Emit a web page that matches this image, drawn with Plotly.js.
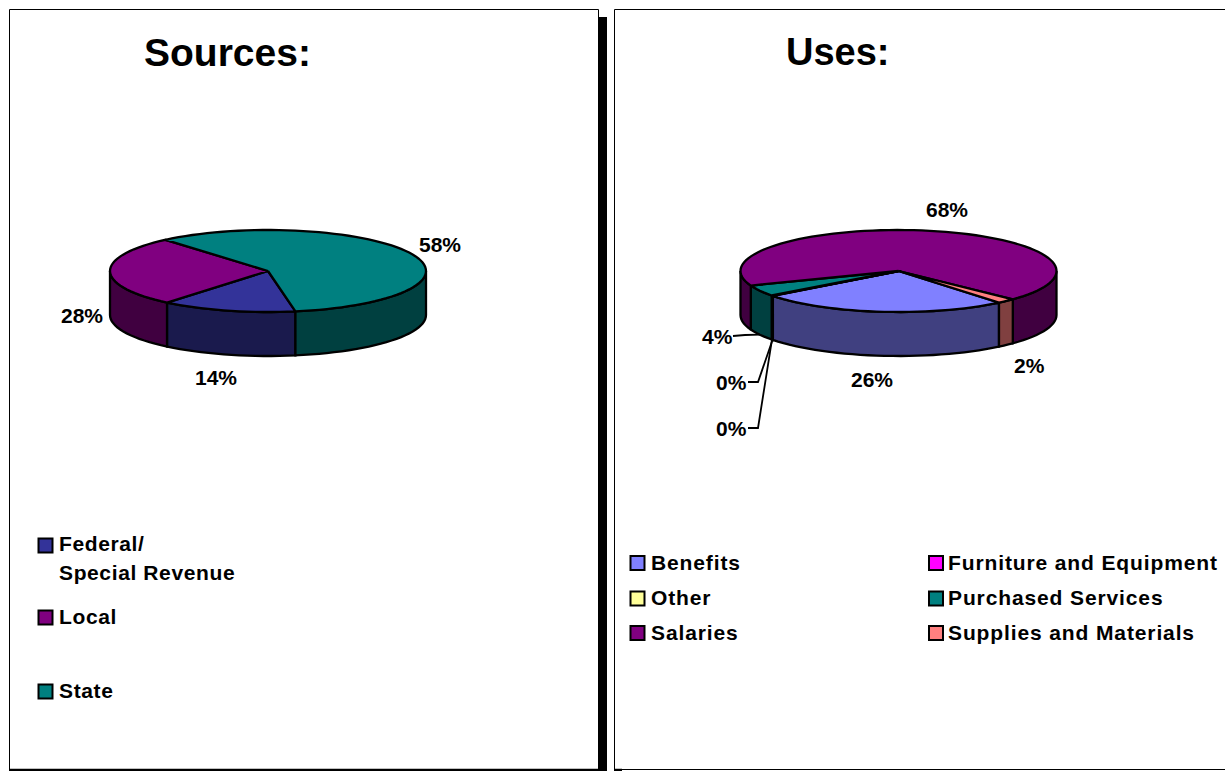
<!DOCTYPE html>
<html><head><meta charset="utf-8">
<script src="https://cdn.plot.ly/plotly-3.0.1.min.js"></script>
<style>
html,body{margin:0;padding:0;background:#fff;overflow:hidden}
#chart{width:1225px;height:771px}
.textpoint text{letter-spacing:0.62px}
.trace:last-child .textpoint text{letter-spacing:0.88px}
</style></head><body><div id="chart"></div>
<script>
// Data
const sourceCategories = ['Federal/ Special Revenue','Local','State'];
const sourceValues = [13.8,27.7,58.4];
const sourceColors = ['#333399','#800080','#008080'];
const sourceSides  = ['#1A1A4D','#400040','#004040'];
const sourceLabelPos = [[215.5,377],[82,315],[439.5,244]];

const useCategories = ['Benefits','Furniture and Equipment','Other','Purchased Services','Salaries','Supplies and Materials'];
const useValues = [25.6,0.1,0.1,4.4,67.9,1.9];
const useColors = ['#8080FF','#FF00FF','#FFFF99','#008080','#800080','#FF8080'];
const useSides  = ['#404080','#800080','#808050','#004040','#400040','#804040'];
const useLabelPos = [[872,379],[731.5,382],[731.5,428],[717,336],[947,209],[1029,365]];

const sourceLegendRows = [
  {text:'Federal/', x:59, y:546, sw:[45.5,545.5], color:sourceColors[0]},
  {text:'Special Revenue', x:59, y:575},
  {text:'Local', x:59, y:619, sw:[45.5,617.5], color:sourceColors[1]},
  {text:'State', x:59, y:693, sw:[45.5,691.5], color:sourceColors[2]}
];
const useLegendRows = [
  {text:'Benefits', x:651, y:565, sw:[637.5,563], color:useColors[0]},
  {text:'Furniture and Equipment', x:948, y:565, sw:[936,563], color:useColors[1]},
  {text:'Other', x:651, y:600, sw:[637.5,598.5], color:useColors[2]},
  {text:'Purchased Services', x:948, y:600, sw:[936,598.5], color:useColors[3]},
  {text:'Salaries', x:651, y:635, sw:[637.5,633], color:useColors[4]},
  {text:'Supplies and Materials', x:948, y:635, sw:[936,633], color:useColors[5]}
];

const FONT = '"Liberation Sans", Arial, sans-serif';
const traces = [];

function pt(g,t,dz){const r=t*Math.PI/180;return [g.cx+g.rx*Math.cos(r), g.cy+g.ry*Math.sin(r)+(dz||0)];}
function arc(g,a,b,dz){
  const out=[], n=Math.max(1,Math.ceil(Math.abs(b-a)/3));
  for(let i=0;i<=n;i++) out.push(pt(g,a+(b-a)*i/n,dz));
  return out;
}
function poly(points,fill){
  traces.push({type:'scatter',mode:'lines',x:points.map(p=>p[0]),y:points.map(p=>p[1]),
    fill:'toself',fillcolor:fill,line:{color:'#000',width:2.3,simplify:false},hoverinfo:'skip'});
}
function drawPie(values,colors,sides,g){
  const total=values.reduce((a,b)=>a+b,0);
  let a=g.start; const wedges=values.map(v=>{const s=a; a+=v/total*360; return [s,a];});
  // visible wall: screen-lower half of the rim
  wedges.forEach((w,i)=>{
    [[0,180],[360,540]].forEach(vis=>{
      const s=Math.max(w[0],vis[0]), e=Math.min(w[1],vis[1]);
      if(e>s){ poly(arc(g,s,e,0).concat(arc(g,e,s,g.depth)).concat([pt(g,s,0)]),sides[i]); }
    });
  });
  wedges.forEach((w,i)=>{
    poly([[g.cx,g.cy]].concat(arc(g,w[0],w[1],0)).concat([[g.cx,g.cy]]),colors[i]);
  });
  return wedges;
}
const leftPie  = {cx:268,cy:271,rx:158,ry:41,depth:44,start:80};
const rightPie = {cx:898.5,cy:271,rx:158,ry:41,depth:44,start:50.5};
drawPie(sourceValues,sourceColors,sourceSides,leftPie);
const useWedges = drawPie(useValues,useColors,useSides,rightPie);

// Leader lines for the small slices: label elbow(s), then rim of the slice
const leaders = [
  {slice:3, path:[[733,336],[745,335]]},
  {slice:1, path:[[748,382],[758,382]]},
  {slice:2, path:[[748,428],[758,428]]}
];
leaders.forEach(l=>{
  const w=useWedges[l.slice];
  const end=pt(rightPie,(w[0]+w[1])/2,rightPie.depth);
  const pts=l.path.concat([end]);
  traces.push({type:'scatter',mode:'lines',x:pts.map(p=>p[0]),y:pts.map(p=>p[1]),
    line:{color:'#000',width:1.8},hoverinfo:'skip'});
});

// Legends
[sourceLegendRows,useLegendRows].forEach(rows=>{
  const sw=rows.filter(r=>r.sw);
  traces.push({type:'scatter',mode:'markers',x:sw.map(r=>r.sw[0]),y:sw.map(r=>r.sw[1]),
    marker:{symbol:'square',size:14,color:sw.map(r=>r.color),line:{color:'#000',width:2}},hoverinfo:'skip'});
  traces.push({type:'scatter',mode:'text',x:rows.map(r=>r.x),y:rows.map(r=>r.y),text:rows.map(r=>r.text),
    textposition:'middle right',textfont:{family:FONT,size:21,color:'#000',weight:700},hoverinfo:'skip',cliponaxis:false});
});

const pctLabel=(v,pos)=>v.map((val,i)=>({x:pos[i][0],y:pos[i][1],text:Math.round(val)+'%',
  showarrow:false,xanchor:'center',yanchor:'middle',font:{family:FONT,size:21,color:'#000',weight:700}}));
const titleAnn=(t,x,s)=>({x:x,y:52,text:t,showarrow:false,xanchor:'center',yanchor:'middle',
  font:{family:FONT,size:s,color:'#000',weight:700}});

const line=(x0,y0,x1,y1,w)=>({type:'line',xref:'x',yref:'y',x0,y0,x1,y1,line:{color:'#000',width:w||1},layer:'below'});
const shapes=[
  line(9.5,9.5,598.5,9.5), line(9.5,9.5,9.5,770), line(598.5,9.5,598.5,17),
  line(9,770,607,770,2.5),
  {type:'rect',xref:'x',yref:'y',x0:598,x1:607,y0:17,y1:771,fillcolor:'#000',line:{width:0},layer:'below'},
  line(614.5,9.5,1225,9.5), line(614.5,9.5,614.5,770),
  line(614,770,622,770,2.5), line(622,769.5,1225,769.5,1)
];

Plotly.newPlot('chart',traces,{
  width:1225,height:771,margin:{l:0,r:0,t:0,b:0},
  paper_bgcolor:'#fff',plot_bgcolor:'#fff',showlegend:false,hovermode:false,
  xaxis:{range:[0,1225],visible:false,fixedrange:true},
  yaxis:{range:[771,0],visible:false,fixedrange:true},
  shapes:shapes,
  annotations:[titleAnn('Sources:',227.5,39),titleAnn('Uses:',837.5,38)]
    .concat(pctLabel(sourceValues,sourceLabelPos)).concat(pctLabel(useValues,useLabelPos))
},{displayModeBar:false,staticPlot:true});
</script></body></html>
